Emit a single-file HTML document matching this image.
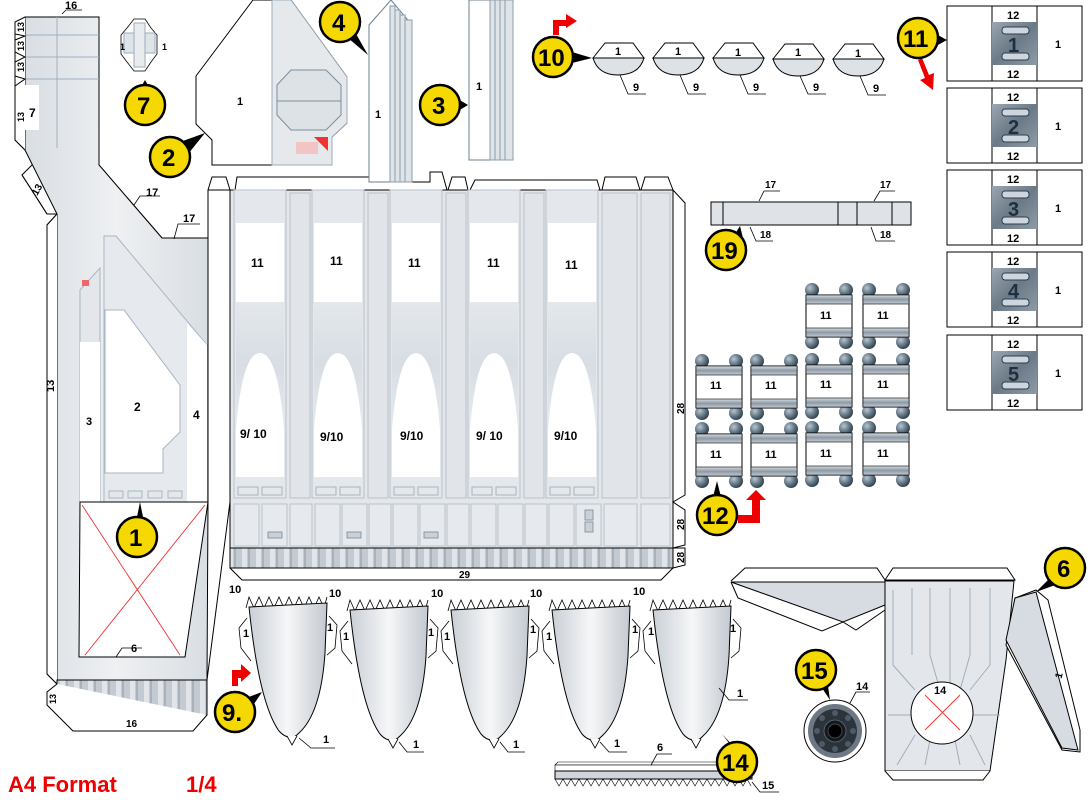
<!DOCTYPE html>
<html><head><meta charset="utf-8"><style>
html,body{margin:0;padding:0;background:#fff;width:1090px;height:800px;overflow:hidden}
svg{display:block}
text{font-family:"Liberation Sans",Arial,sans-serif;font-weight:bold;fill:#000}
</style></head><body>
<svg width="1090" height="800" viewBox="0 0 1090 800" xmlns="http://www.w3.org/2000/svg">
<defs>
<linearGradient id="g1" x1="0" y1="0" x2="1" y2="0"><stop offset="0" stop-color="#d9dee3"/><stop offset=".5" stop-color="#eef0f2"/><stop offset="1" stop-color="#d9dee3"/></linearGradient>
<linearGradient id="cone" x1="0" y1="0" x2="1" y2="0"><stop offset="0" stop-color="#c9cfd6"/><stop offset=".5" stop-color="#f6f7f8"/><stop offset="1" stop-color="#c3c9d0"/></linearGradient>
<linearGradient id="arch" x1="0" y1="0" x2="0" y2="1"><stop offset="0" stop-color="#e4e8ec"/><stop offset=".5" stop-color="#d7dde3"/><stop offset="1" stop-color="#e8ebee"/></linearGradient>
<pattern id="strip" width="14" height="40" patternUnits="userSpaceOnUse"><rect width="14" height="40" fill="#c4cad1"/><rect x="4" width="5" height="40" fill="#e1e5e9"/><rect x="10" width="2" height="40" fill="#a9b1ba"/></pattern>
<radialGradient id="ball" cx=".35" cy=".35" r=".7"><stop offset="0" stop-color="#b9c6d0"/><stop offset=".6" stop-color="#5d7180"/><stop offset="1" stop-color="#2f3d48"/></radialGradient>
<linearGradient id="bar" x1="0" y1="0" x2="0" y2="1"><stop offset="0" stop-color="#d5dbe0"/><stop offset=".5" stop-color="#8d9aa6"/><stop offset="1" stop-color="#c5ccd3"/></linearGradient>
<linearGradient id="badge" x1="0" y1="0" x2="1" y2="1"><stop offset="0" stop-color="#9aa6b1"/><stop offset=".5" stop-color="#6b7a87"/><stop offset="1" stop-color="#8e9ba7"/></linearGradient>
<g id="yc"><circle r="20" fill="#f4d800" stroke="#000" stroke-width="2.5"/></g>
<g id="dome"><path d="M0,15 L12,0 H40 L51,15 Z" fill="#fff" stroke="#000"/><path d="M0,15 H51 Q46,32 25,32 Q5,32 0,15 Z" fill="#dde2e6" stroke="#000"/></g>
<g id="rung"><circle cx="7" cy="0" r="7" fill="url(#ball)"/><circle cx="41" cy="0" r="7" fill="url(#ball)"/><circle cx="7" cy="52" r="7" fill="url(#ball)"/><circle cx="41" cy="52" r="7" fill="url(#ball)"/><rect x="1" y="5" width="46" height="42" fill="#fff" stroke="#000"/><rect x="1" y="5" width="46" height="9" fill="url(#bar)" stroke="#000" stroke-width=".6"/><rect x="1" y="38" width="46" height="9" fill="url(#bar)" stroke="#000" stroke-width=".6"/></g>
<g id="cn"><path d="M-3,5 L0,-6 L5,5 L10,-6 L15,5 L20,-6 L25,5 L30,-6 L35,5 L40,-6 L45,5 L50,-6 L55,5 L60,-6 L65,5 L70,-6 L75,5 L78,-6" fill="none" stroke="#000" stroke-width=".8"/><path d="M-2,15 L-10,25 L-8,45 L2,58 M80,13 L88,22 L86,45 L78,52" fill="none" stroke="#000" stroke-width=".8"/><path d="M0,4 L78,0 L76,50 Q72,110 50,130 Q45,135 43,134 Q36,135 30,128 Q10,100 0,4 Z" fill="url(#cone)" stroke="#000"/><path d="M38,133 L43,142 L48,133" fill="#fff" stroke="#000" stroke-width=".8"/></g>
<g id="bay"><rect width="52" height="308" fill="#e4e8ec" stroke="#b8c1ca"/><rect x="2" y="33" width="48" height="79" fill="#fff"/><path d="M2,112 H50 V287 H2 Z" fill="#fff"/><path d="M2,112 H50 V240 Q44,163 26,163 Q8,163 2,240 Z" fill="url(#arch)"/><rect x="4" y="297" width="20" height="8" fill="#e4e8ec" stroke="#a9b3bd"/><rect x="28" y="297" width="20" height="8" fill="#e4e8ec" stroke="#a9b3bd"/></g>
</defs>

<!-- left big piece -->
<path d="M25,17 H99 V165 L162,238 H208 V190 H230 V502 L207,680 H57 V214 L47,225 V674 L57,684 M25,17 L15,30 V140 L25,150 L35,162 L22,175 L47,214 L57,214" fill="#fff" stroke="#000"/>
<path d="M25,17 H99 V165 L162,238 H208 V502 L207,680 H57 V214 L25,150 Z" fill="url(#g1)" stroke="#000"/>
<line x1="25" y1="35" x2="99" y2="35" stroke="#9eb0c0"/><line x1="25" y1="57" x2="99" y2="57" stroke="#9eb0c0"/><line x1="25" y1="79" x2="99" y2="79" stroke="#9eb0c0"/><line x1="57" y1="17" x2="57" y2="148" stroke="#9eb0c0"/>
<rect x="25" y="85" width="14" height="45" fill="#fff"/><text x="29" y="117" font-size="12">7</text>
<path d="M25,17 L15,22 V34 L25,36 L15,40 V52 L25,57 L15,62 V76 L25,79 L15,86 V140 L25,150" fill="#fff" stroke="#000"/>
<g font-size="9"><text x="16" y="32" transform="rotate(-90 20 28)">13</text><text x="16" y="51" transform="rotate(-90 20 47)">13</text><text x="16" y="72" transform="rotate(-90 20 68)">13</text><text x="16" y="122" transform="rotate(-90 20 118)">13</text></g>
<text x="65" y="9" font-size="11">16</text><path d="M62,14 L66,10 H82" fill="none" stroke="#000" stroke-width=".8"/>
<path d="M57,214 L47,225 V674 L57,684" fill="#fff" stroke="#000"/>
<text x="48" y="390" font-size="11" transform="rotate(-90 52 388)">13</text>
<path d="M22,175 L35,195 L47,214" fill="none" stroke="#000"/><text x="33" y="195" font-size="10" transform="rotate(-60 36 192)">13</text>
<!-- inner -->
<path d="M80,290 L100,268 V502 H80 Z" fill="#e3e7eb" stroke="#a9b5c1"/><rect x="80" y="342" width="20" height="160" fill="#fff"/>
<rect x="82" y="280" width="7" height="6" fill="#e66"/>
<text x="86" y="425" font-size="11">3</text>
<path d="M104,236 H116 L207,345 V502 H104 Z" fill="#e6eaee" stroke="#a9b5c1"/>
<path d="M105,310 H124 L180,385 V432 L163,449 V473 H105 Z" fill="#fff" stroke="#a9b5c1"/>
<path d="M187,323 L207,345 V502 H187 Z" fill="#fff"/>
<text x="134" y="411" font-size="12">2</text><text x="193" y="419" font-size="12">4</text>
<g fill="#e4e8ec" stroke="#a9b5c1"><rect x="109" y="491" width="14" height="7"/><rect x="128" y="491" width="14" height="7"/><rect x="148" y="491" width="14" height="7"/><rect x="168" y="491" width="14" height="7"/></g>
<path d="M80,502 H208 L185,657 H79 Z" fill="#fff" stroke="#000"/>
<path d="M82,505 L180,655 M205,505 L85,655" stroke="#e33" stroke-width=".9"/>
<text x="131" y="652" font-size="11">6</text><path d="M116,657 L122,648 H142" fill="none" stroke="#000" stroke-width=".8"/>
<rect x="57" y="680" width="150" height="35" fill="url(#strip)" stroke="#000"/>
<path d="M57,684 L47,692 V705 L57,715 L73,731 H193 L207,715" fill="#fff" stroke="#000"/>
<text x="46" y="702" font-size="9" transform="rotate(-90 52 698)">13</text><text x="126" y="727" font-size="10">16</text>
<text x="146" y="196" font-size="11">17</text><path d="M134,205 L140,196 H160" fill="none" stroke="#000" stroke-width=".8"/>
<text x="183" y="222" font-size="11">17</text><path d="M174,239 L178,224 H200" fill="none" stroke="#000" stroke-width=".8"/>

<!-- main panel -->
<path d="M208,190 L212,177 H226 L230,190 M235,190 L237,177 H410 V182 H430 V172 H442 L447,190 M448,190 L452,177 H465 L468,190 M470,190 L475,180 H597 L600,190 M602,190 L605,177 H636 L640,190 M641,190 L645,177 H668 L673,190" fill="none" stroke="#000"/>
<rect x="230" y="190" width="443" height="378" fill="#e3e7eb" stroke="#000"/>
<use href="#bay" x="234" y="190"/><use href="#bay" x="312" y="190"/><use href="#bay" x="390" y="190"/><use href="#bay" x="468" y="190"/><use href="#bay" x="546" y="190"/>
<g fill="#e1e5e9" stroke="#b8c1ca"><rect x="290" y="193" width="20" height="305"/><rect x="368" y="193" width="20" height="305"/><rect x="446" y="193" width="20" height="305"/><rect x="524" y="193" width="20" height="305"/><rect x="602" y="193" width="35" height="305"/><rect x="641" y="193" width="29" height="305"/></g>
<g font-size="12"><text x="251" y="267">11</text><text x="330" y="265">11</text><text x="408" y="267">11</text><text x="487" y="267">11</text><text x="565" y="269">11</text>
<text x="240" y="438">9/ 10</text><text x="320" y="441">9/10</text><text x="400" y="440">9/10</text><text x="476" y="440">9/ 10</text><text x="554" y="440">9/10</text></g>
<g fill="#e6eaee" stroke="#b8c1ca"><rect x="234" y="504" width="25" height="42"/><rect x="262" y="504" width="25" height="42"/><rect x="290" y="504" width="22" height="42"/><rect x="315" y="504" width="25" height="42"/><rect x="342" y="504" width="25" height="42"/><rect x="369" y="504" width="22" height="42"/><rect x="393" y="504" width="25" height="42"/><rect x="420" y="504" width="25" height="42"/><rect x="447" y="504" width="22" height="42"/><rect x="471" y="504" width="25" height="42"/><rect x="498" y="504" width="25" height="42"/><rect x="525" y="504" width="22" height="42"/><rect x="549" y="504" width="25" height="42"/><rect x="576" y="504" width="25" height="42"/><rect x="604" y="504" width="33" height="42"/><rect x="641" y="504" width="29" height="42"/></g>
<g fill="#c9d0d7" stroke="#8c98a4"><rect x="268" y="532" width="14" height="6"/><rect x="347" y="532" width="14" height="6"/><rect x="424" y="532" width="14" height="6"/><rect x="585" y="510" width="8" height="10"/><rect x="585" y="522" width="8" height="10"/></g>
<rect x="230" y="548" width="443" height="20" fill="url(#strip)" stroke="#000"/>
<path d="M230,568 L242,580 H661 L673,568" fill="none" stroke="#000"/><text x="459" y="578" font-size="10">29</text>
<path d="M673,190 L685,203 V495 L673,502 L685,510 V545 L673,548 M673,548 H685 V565 L673,568" fill="none" stroke="#000"/>
<g font-size="10"><text x="674" y="412" transform="rotate(-90 680 408)">28</text><text x="674" y="528" transform="rotate(-90 680 524)">28</text><text x="674" y="561" transform="rotate(-90 680 557)">28</text></g>

<!-- piece 7 -->
<path d="M127,28 L134,19 H145 L151,28 L157,35 V54 L151,62 L145,71 H134 L127,62 L121,54 V35 Z" fill="#fff" stroke="#000" stroke-width=".8"/>
<rect x="124" y="33" width="31" height="20" fill="#dfe4e8" stroke="#9eadbb"/><rect x="134" y="23" width="11" height="44" fill="#e8ecef" stroke="#9eadbb"/>
<text x="120" y="50" font-size="9">1</text><text x="162" y="50" font-size="9">1</text>
<!-- piece 2 -->
<path d="M253,0 H291 L347,77 V123 L332,137 V165 H212 V140 L196,124 V76 Z" fill="#fff" stroke="#000"/>
<path d="M272,0 H291 L347,77 V123 L332,137 V165 H272 Z" fill="#e5e9ec" stroke="#9eadbb"/>
<path d="M291,70 H326 L341,85 V115 L326,130 H291 L277,115 V85 Z" fill="#dde2e6" stroke="#7d8d9c"/><line x1="277" y1="101" x2="341" y2="101" stroke="#7d8d9c"/>
<path d="M314,137 H328 V151 Z" fill="#e33"/><rect x="296" y="142" width="22" height="12" fill="#f2c4c4"/>
<text x="237" y="105" font-size="11">1</text>
<!-- piece 4 -->
<path d="M369,25 L391,0 L412,25 V182 H369 Z" fill="#fff" stroke="#6d7d8c"/>
<g fill="#dfe4e8" stroke="#8e9daa"><rect x="390" y="6" width="5" height="176"/><rect x="395" y="10" width="5" height="172"/><rect x="400" y="15" width="5" height="167"/><rect x="405" y="20" width="7" height="162"/></g>
<text x="375" y="118" font-size="11">1</text>
<!-- piece 3 -->
<rect x="469" y="0" width="44" height="160" fill="#fff" stroke="#6d7d8c"/>
<g fill="#dfe4e8" stroke="#8e9daa"><rect x="490" y="0" width="5" height="160"/><rect x="495" y="0" width="5" height="160"/><rect x="500" y="0" width="5" height="160"/><rect x="505" y="0" width="8" height="160"/></g>
<text x="476" y="90" font-size="11">1</text>

<!-- domes 10 -->
<use href="#dome" x="593" y="43"/><use href="#dome" x="653" y="43"/><use href="#dome" x="713" y="43"/><use href="#dome" x="773" y="44"/><use href="#dome" x="833" y="44"/>
<g font-size="11"><text x="615" y="55">1</text><text x="675" y="55">1</text><text x="735" y="56">1</text><text x="795" y="56">1</text><text x="855" y="57">1</text>
<text x="633" y="91">9</text><text x="693" y="91">9</text><text x="753" y="91">9</text><text x="813" y="91">9</text><text x="873" y="92">9</text></g>
<g fill="none" stroke="#000" stroke-width=".8"><path d="M620,75 L628,94 H646 M680,75 L688,94 H706 M740,75 L748,94 H766 M800,76 L808,94 H826 M860,76 L868,95 H886"/></g>
<path d="M553,35 V20 H566 V14 L577,21 L566,28 V26 H559 V35 Z" fill="#e00"/>

<!-- part 11 column -->
<g id="b11"><rect x="947" y="6" width="135" height="75" fill="#fff" stroke="#000"/><line x1="992" y1="6" x2="992" y2="81" stroke="#000"/><line x1="1037" y1="6" x2="1037" y2="81" stroke="#000"/><rect x="992" y="22" width="45" height="43" fill="url(#badge)"/><rect x="1002" y="27" width="27" height="7" rx="3" fill="#cdd6de" stroke="#2d3d4b"/><rect x="1002" y="53" width="27" height="7" rx="3" fill="#cdd6de" stroke="#2d3d4b"/></g>
<use href="#b11" y="82"/><use href="#b11" y="164"/><use href="#b11" y="246"/><use href="#b11" y="329"/>
<g font-size="11"><text x="1007" y="19">12</text><text x="1007" y="78">12</text><text x="1007" y="101">12</text><text x="1007" y="160">12</text><text x="1007" y="183">12</text><text x="1007" y="242">12</text><text x="1007" y="265">12</text><text x="1007" y="324">12</text><text x="1007" y="348">12</text><text x="1007" y="407">12</text>
<text x="1055" y="48">1</text><text x="1055" y="130">1</text><text x="1055" y="212">1</text><text x="1055" y="294">1</text><text x="1055" y="377">1</text></g>
<g font-size="20"><text x="1008" y="52" style="fill:#1f2f3f">1</text><text x="1008" y="134" style="fill:#1f2f3f">2</text><text x="1008" y="216" style="fill:#1f2f3f">3</text><text x="1008" y="298" style="fill:#1f2f3f">4</text><text x="1008" y="381" style="fill:#1f2f3f">5</text></g>
<path d="M922,58 L929,75 L934,73 L933,90 L920,80 L925,78 L918,60 Z" fill="#e00"/>

<!-- part 19 -->
<rect x="711" y="202" width="200" height="23" fill="#dfe3e7" stroke="#000"/>
<path d="M723,202 V225 M838,202 V225 M857,202 V225 M892,202 V225" stroke="#000"/>
<g font-size="10"><text x="765" y="188">17</text><text x="880" y="188">17</text><text x="760" y="238">18</text><text x="880" y="238">18</text></g>
<path d="M759,201 L764,191 H780 M874,201 L880,191 H895 M750,227 L756,241 H773 M871,227 L876,241 H895" fill="none" stroke="#000" stroke-width=".8"/>

<!-- part 12 rungs -->
<use href="#rung" x="805" y="290"/><use href="#rung" x="862" y="290"/>
<use href="#rung" x="695" y="361"/><use href="#rung" x="750" y="361"/><use href="#rung" x="805" y="360"/><use href="#rung" x="862" y="360"/>
<use href="#rung" x="695" y="429"/><use href="#rung" x="750" y="429"/><use href="#rung" x="805" y="428"/><use href="#rung" x="862" y="428"/>
<g font-size="11"><text x="820" y="319">11</text><text x="877" y="319">11</text><text x="710" y="389">11</text><text x="765" y="389">11</text><text x="820" y="388">11</text><text x="877" y="388">11</text><text x="710" y="458">11</text><text x="765" y="458">11</text><text x="820" y="457">11</text><text x="877" y="457">11</text></g>
<path d="M738,515 H752 V500 H746 L756,490 L766,500 H760 V523 H738 Z" fill="#e00"/>

<!-- cones -->
<use href="#cn" x="249" y="603"/><use href="#cn" x="350" y="606"/><use href="#cn" x="451" y="606"/><use href="#cn" x="552" y="606"/><use href="#cn" x="653" y="606"/>
<g font-size="11"><text x="229" y="593">10</text><text x="329" y="597">10</text><text x="431" y="597">10</text><text x="530" y="597">10</text><text x="633" y="595">10</text>
<text x="243" y="637">1</text><text x="327" y="631">1</text><text x="343" y="640">1</text><text x="428" y="636">1</text><text x="444" y="640">1</text><text x="530" y="633">1</text><text x="546" y="640">1</text><text x="632" y="633">1</text><text x="648" y="635">1</text><text x="730" y="632">1</text>
<text x="323" y="743">1</text><text x="413" y="748">1</text><text x="513" y="748">1</text><text x="614" y="747">1</text><text x="737" y="697">1</text></g>
<g fill="none" stroke="#000" stroke-width=".8"><path d="M299,738 L311,748 H335 M399,742 L407,752 H424 M500,742 L508,752 H525 M600,742 L609,752 H627 M719,688 L729,700 H748"/></g>
<path d="M232,686 V670 H241 V664 L251,673 L241,682 V678 H238 V686 Z" fill="#e00"/>

<!-- part 6 -->
<path d="M731,581 L745,568 H877 L885,580" fill="#fff" stroke="#000"/>
<path d="M731,582 H885 V605 L843,622 Z" fill="#d6dce2" stroke="#000"/>
<path d="M731,582 L738,598 L822,631 L843,622 L856,630 L885,610" fill="none" stroke="#000"/>
<path d="M885,580 L893,568 H1007 L1015,580 Z" fill="#fff" stroke="#000"/>
<path d="M885,581 H1014 L1006,660 L990,771 H885 Z" fill="#e3e7eb" stroke="#000"/>
<path d="M885,771 L893,780 H983 L990,771" fill="#fff" stroke="#000"/>
<g stroke="#a0aebb" fill="none"><path d="M893,590 V665 L915,690 M912,588 V655 M930,588 V655 L940,690 M950,588 V690 M970,588 V655 L960,690 M990,588 V665 L970,690 M888,715 H1000 M915,735 L897,765 M930,740 L925,765 M955,740 L960,765 M970,735 L985,765"/></g>
<circle cx="942" cy="713" r="31" fill="#fff" stroke="#000"/>
<path d="M925,695 L960,730 M960,695 L925,730" stroke="#e33" stroke-width=".9"/>
<text x="934" y="694" font-size="11">14</text>
<path d="M1015,598 L1036,590 L1048,600 L1080,730 L1080,752 L1062,750 L1006,645 Z" fill="#fff" stroke="#000"/>
<path d="M1015,598 L1036,592 L1078,750 L1062,748 L1006,640 Z" fill="#d6dce2" stroke="#000"/>
<text x="1056" y="680" font-size="10" transform="rotate(-75 1058 676)">1</text>
<!-- ring 15 -->
<circle cx="835" cy="731" r="31" fill="#fff" stroke="#000"/>
<circle cx="835" cy="731" r="27" fill="#6d7884"/><circle cx="835" cy="731" r="22" fill="#2b333b"/>
<g fill="#4e5a66"><circle cx="835" cy="713" r="3"/><circle cx="835" cy="749" r="3"/><circle cx="817" cy="731" r="3"/><circle cx="853" cy="731" r="3"/><circle cx="822" cy="718" r="3"/><circle cx="848" cy="718" r="3"/><circle cx="822" cy="744" r="3"/><circle cx="848" cy="744" r="3"/></g>
<circle cx="835" cy="731" r="11" fill="#15191d" stroke="#55616d"/><circle cx="835" cy="731" r="7" fill="#000" stroke="#444"/>
<text x="856" y="690" font-size="11">14</text><path d="M850,703 L856,692 H870" fill="none" stroke="#000" stroke-width=".8"/>
<!-- strip 14 -->
<path d="M555,765 L558,762 H749 L752,765 Z" fill="#fff" stroke="#000" stroke-width=".6"/>
<rect x="555" y="765" width="197" height="6" fill="#fff" stroke="#000" stroke-width=".6"/>
<rect x="555" y="771" width="197" height="8" fill="#cfd5db" stroke="#000"/>
<path d="M555,779 L559,786 L563,779 L567,786 L571,779 L575,786 L579,779 L583,786 L587,779 L591,786 L595,779 L599,786 L603,779 L607,786 L611,779 L615,786 L619,779 L623,786 L627,779 L631,786 L635,779 L639,786 L643,779 L647,786 L651,779 L655,786 L659,779 L663,786 L667,779 L671,786 L675,779 L679,786 L683,779 L687,786 L691,779 L695,786 L699,779 L703,786 L707,779 L711,786 L715,779 L719,786 L723,779 L727,786 L731,779 L735,786 L739,779 L743,786 L747,779 L751,786" fill="none" stroke="#000" stroke-width=".6"/>
<text x="657" y="751" font-size="11">6</text><path d="M651,765 L657,754 H672" fill="none" stroke="#000" stroke-width=".8"/>
<text x="762" y="789" font-size="11">15</text><path d="M752,782 L760,792 H779" fill="none" stroke="#000" stroke-width=".8"/>

<!-- yellow callouts -->
<g>
<path d="M137,517 L140,502 L143,517 Z"/><use href="#yc" x="137" y="537"/><text x="129" y="546" font-size="24">1</text>
<path d="M180,142 L205,133 L188,154 Z"/><use href="#yc" x="170" y="157"/><text x="162" y="166" font-size="24">2</text>
<path d="M458,99 L468,105 L458,111 Z"/><use href="#yc" x="440" y="105"/><text x="432" y="114" font-size="24">3</text>
<path d="M348,38 L368,55 L355,32 Z"/><use href="#yc" x="340" y="22"/><text x="332" y="31" font-size="24">4</text>
<path d="M141,87 L145,80 L149,87 Z"/><use href="#yc" x="145" y="105"/><text x="137" y="114" font-size="24">7</text>
<path d="M572,52 L592,58 L572,63 Z"/><use href="#yc" x="553" y="57"/><text x="538" y="66" font-size="24">10</text>
<path d="M936,34 L947,40 L936,46 Z"/><use href="#yc" x="918" y="38"/><text x="903" y="47" font-size="24">11</text>
<path d="M735,234 L740,226 L743,238 Z"/><use href="#yc" x="726" y="250"/><text x="711" y="259" font-size="24">19</text>
<path d="M713,497 L717,481 L721,497 Z"/><use href="#yc" x="717" y="515"/><text x="702" y="524" font-size="24">12</text>
<path d="M246,698 L262,692 L252,707 Z"/><use href="#yc" x="235" y="712"/><text x="222" y="721" font-size="24">9.</text>
<path d="M729,743 L722,734 L735,748 Z"/><use href="#yc" x="737" y="762"/><text x="722" y="771" font-size="24">14</text>
<path d="M822,688 L830,700 L828,686 Z"/><use href="#yc" x="816" y="670"/><text x="801" y="679" font-size="24">15</text>
<path d="M1050,578 L1036,592 L1058,584 Z"/><use href="#yc" x="1065" y="568"/><text x="1057" y="577" font-size="24">6</text>
</g>

<text x="8" y="792" font-size="22" style="fill:#e00">A4 Format</text>
<text x="186" y="792" font-size="22" style="fill:#e00">1/4</text>
</svg>
</body></html>
